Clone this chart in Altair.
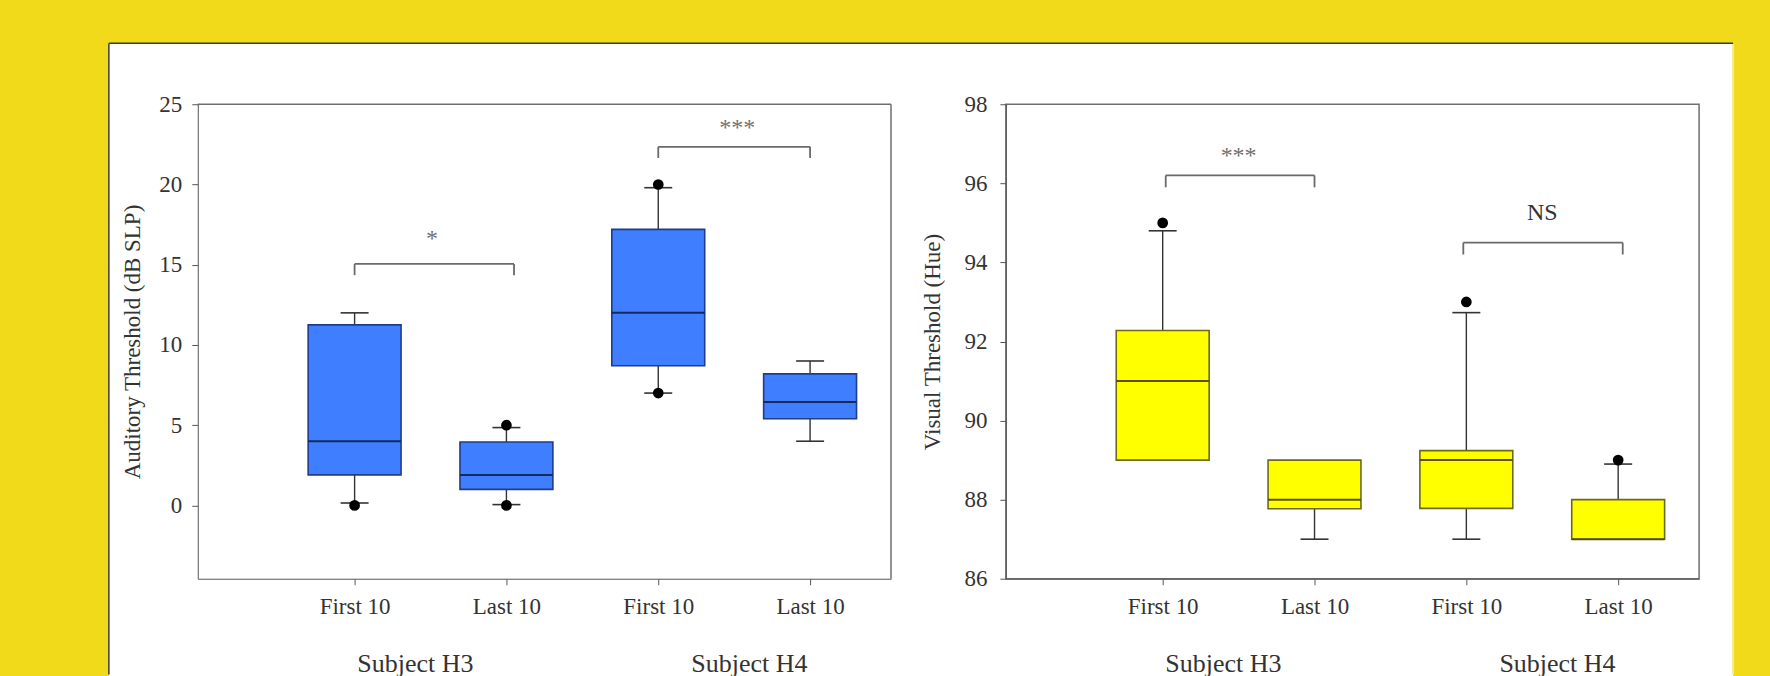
import json
import altair as alt
import pandas as pd

# ---------------- data ----------------
x_pos = [1, 2, 3, 4]
tick_labels = ["First 10", "Last 10", "First 10", "Last 10"]
subjects = ["Subject H3", "Subject H4"]
subject_x = [1.4, 3.6]

# Auditory threshold (dB SLP)
aud_q1 = [1.9, 1.0, 8.7, 5.4]
aud_med = [4.0, 1.9, 12.0, 6.45]
aud_q3 = [11.25, 3.95, 17.2, 8.2]
aud_wlo = [0.15, 0.05, 7.0, 4.0]
aud_whi = [12.0, 4.85, 19.8, 9.0]
aud_out_x = [1, 2, 2, 3, 3]
aud_out_y = [0.0, 0.0, 5.0, 7.0, 20.0]
aud_br_x1 = [1.0, 3.0]
aud_br_x2 = [2.05, 4.0]
aud_br_y = [15.05, 22.35]
aud_br_drop = [14.35, 21.65]
aud_br_text = ["*", "***"]
aud_br_tx = [1.51, 3.52]
aud_br_ty = [16.6, 23.5]

# Visual threshold (Hue)
vis_q1 = [89.0, 87.77, 87.78, 87.0]
vis_med = [91.0, 88.0, 89.0, 87.0]
vis_q3 = [92.28, 89.0, 89.24, 88.0]
vis_wlo = [89.0, 87.0, 87.0, 87.0]
vis_whi = [94.8, 89.0, 92.73, 88.9]
vis_out_x = [1, 3, 4]
vis_out_y = [95.0, 93.0, 89.0]
vis_br_x1 = [1.02, 2.98]
vis_br_x2 = [2.0, 4.03]
vis_br_y = [96.2, 94.5]
vis_br_drop = [95.9, 94.2]
vis_br_text = ["***", "NS"]
vis_br_tx = [1.5, 3.5]
vis_br_ty = [96.7, 95.25]

# ---------------- style ----------------
FONT = "Liberation Serif"
TXT = "#333333"
YELLOW_BG = "#F0DA1A"
FRAME = "#6e6e6e"
W, H = 694, 475
OX, OY = 197, 103          # origin of left plot on the page
PAGE_W, PAGE_H = 1770, 676
PANEL_L, PANEL_T, PANEL_R = 108, 42, 1734

label_expr = json.dumps(tick_labels) + "[datum.value - 1]"


def panel(q1, med, q3, wlo, whi, ox, oy, bx1, bx2, by, bdrop, btext, btx, bty,
          ydomain, yticks, ytitle, fill, stroke, medcol, ylabpad, ytitlepad, decor=False):
    xs = alt.Scale(domain=[0, 4.5], nice=False, zero=False)
    ys = alt.Scale(domain=ydomain, nice=False, zero=False)
    xaxis = alt.Axis(values=x_pos, labelExpr=label_expr, title=None, grid=False,
                     tickSize=6, labelPadding=11, domainColor="#555", tickColor="#555",
                     labelFont=FONT, labelFontSize=23, labelColor=TXT, zindex=1)
    yaxis = alt.Axis(values=yticks, title=ytitle, grid=False, tickSize=6,
                     labelPadding=ylabpad, titlePadding=ytitlepad,
                     domainColor="#555", tickColor="#555",
                     labelFont=FONT, labelFontSize=23, labelColor=TXT,
                     titleFont=FONT, titleFontSize=23, titleFontWeight="normal",
                     titleColor=TXT, zindex=1)

    box = pd.DataFrame({"x": x_pos, "q1": q1, "med": med, "q3": q3, "wlo": wlo, "whi": whi})
    caps_x, caps_y = [], []
    for i in range(len(x_pos)):
        if wlo[i] < q1[i]:
            caps_x.append(x_pos[i]); caps_y.append(wlo[i])
        if whi[i] > q3[i]:
            caps_x.append(x_pos[i]); caps_y.append(whi[i])
    caps = pd.DataFrame({"x": caps_x, "y": caps_y})
    outl = pd.DataFrame({"x": ox, "y": oy})
    br = pd.DataFrame({"x1": bx1, "x2": bx2, "y": by, "drop": bdrop})
    drops = pd.DataFrame({"x": bx1 + bx2, "y": by + by, "drop": bdrop + bdrop})
    btxt = pd.DataFrame({"x": btx, "y": bty, "t": btext})
    subj = pd.DataFrame({"x": subject_x, "t": subjects})

    X = lambda f: alt.X(f, type="quantitative", scale=xs, axis=xaxis)
    Y = lambda f: alt.Y(f, type="quantitative", scale=ys, axis=yaxis)

    whisk = alt.Chart(box).mark_rule(color="#333", strokeWidth=1.4).encode(
        x=X("x"), y=Y("wlo"), y2="whi")
    bars = alt.Chart(box).mark_bar(size=93, fill=fill, stroke=stroke, strokeWidth=1.6,
                                    opacity=1).encode(x=X("x"), y=Y("q1"), y2="q3")
    meds = alt.Chart(box).mark_tick(orient="horizontal", size=93, thickness=2,
                                    color=medcol, opacity=1).encode(x=X("x"), y=Y("med"))
    capm = alt.Chart(caps).mark_tick(orient="horizontal", size=28, thickness=1.6,
                                     color="#333", opacity=1).encode(x=X("x"), y=Y("y"))
    dots = alt.Chart(outl).mark_circle(size=115, color="black", opacity=1).encode(
        x=X("x"), y=Y("y"))
    hbr = alt.Chart(br).mark_rule(color="#6a6a6a", strokeWidth=1.8).encode(
        x=X("x1"), x2="x2", y=Y("y"))
    vbr = alt.Chart(drops).mark_rule(color="#6a6a6a", strokeWidth=1.8).encode(
        x=X("x"), y=Y("y"), y2="drop")
    btl = alt.Chart(btxt).mark_text(font=FONT, fontSize=24, baseline="middle",
                                    align="center").encode(
        x=X("x"), y=Y("y"), text="t:N",
        color=alt.condition("datum.t == 'NS'", alt.value(TXT), alt.value("#707070")))
    sub = alt.Chart(subj).mark_text(font=FONT, fontSize=26, baseline="bottom",
                                    align="center", color=TXT).encode(
        x=X("x"), y=alt.value(PAGE_H - OY), text="t:N")

    layers = []
    if decor:
        one = alt.Data(values=[{"k": 1}])
        L, T = -OX, -OY
        R, B = PAGE_W - OX, PAGE_H - OY
        pl, pt, pr = PANEL_L - OX, PANEL_T - OY, PANEL_R - OX
        # full yellow page, white panel on top, dark left/top border
        layers.append(alt.Chart(one).mark_rect(fill=YELLOW_BG, strokeWidth=0, opacity=1).encode(
            x=alt.value(L), x2=alt.value(R), y=alt.value(T), y2=alt.value(B)))
        layers.append(alt.Chart(one).mark_rect(fill="white", strokeWidth=0, opacity=1).encode(
            x=alt.value(pl), x2=alt.value(pr), y=alt.value(pt), y2=alt.value(B)))
        # soft (blended) right edge of the panel
        layers.append(alt.Chart(one).mark_rule(color="#F8EC8A", strokeWidth=2).encode(
            x=alt.value(pr), y=alt.value(pt + 1), y2=alt.value(B - 2)))
        layers.append(alt.Chart(one).mark_rule(color="#3a3a3a", strokeWidth=1.5).encode(
            x=alt.value(pl), x2=alt.value(pr), y=alt.value(pt)))
        layers.append(alt.Chart(one).mark_rule(color="#3a3a3a", strokeWidth=1.5).encode(
            x=alt.value(pl), y=alt.value(pt), y2=alt.value(B - 2)))
        # frame of this plot (the white panel hides the view stroke)
        layers.append(alt.Chart(one).mark_rule(color=FRAME, strokeWidth=1.5).encode(
            x=alt.value(0), x2=alt.value(W), y=alt.value(0)))
        layers.append(alt.Chart(one).mark_rule(color=FRAME, strokeWidth=1.5).encode(
            x=alt.value(W), y=alt.value(0), y2=alt.value(H)))
    layers += [whisk, bars, meds, capm, dots, hbr, vbr, btl, sub]
    return alt.layer(*layers).properties(width=W, height=H)


left = panel(aud_q1, aud_med, aud_q3, aud_wlo, aud_whi, aud_out_x, aud_out_y,
             aud_br_x1, aud_br_x2, aud_br_y, aud_br_drop, aud_br_text, aud_br_tx, aud_br_ty,
             [-4.57, 25], [0, 5, 10, 15, 20, 25], "Auditory Threshold (dB SLP)",
             "#3F7FFF", "#1E3C8C", "#16285E", 10, 14, decor=True)
right = panel(vis_q1, vis_med, vis_q3, vis_wlo, vis_whi, vis_out_x, vis_out_y,
              vis_br_x1, vis_br_x2, vis_br_y, vis_br_drop, vis_br_text, vis_br_tx, vis_br_ty,
              [86, 98], [86, 88, 90, 92, 94, 96, 98], "Visual Threshold (Hue)",
              "#FFFF00", "#6E6A10", "#5A5000", 13, 19)

chart = alt.hconcat(left, right, spacing=115, bounds="flush").properties(
    padding=0, background=YELLOW_BG
).configure_view(stroke=FRAME, strokeWidth=1.5, fill="white")

chart.save("out.html", embed_options={"renderer": "svg", "actions": False})
